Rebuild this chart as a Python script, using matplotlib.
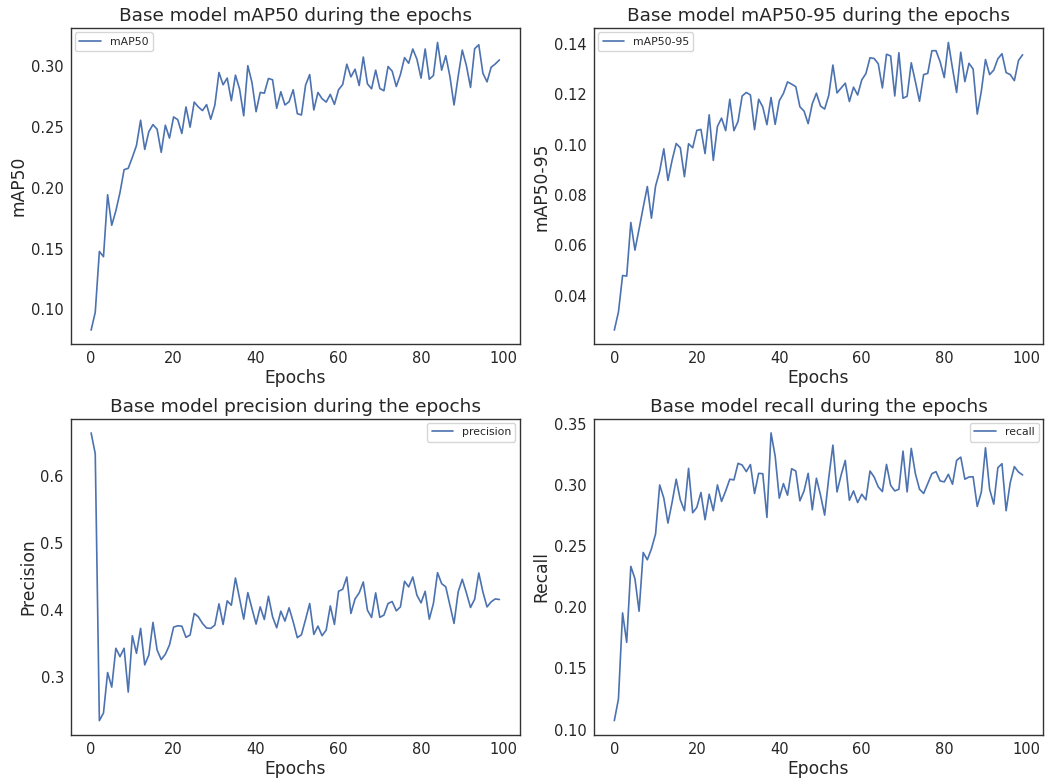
import numpy as np
import matplotlib
matplotlib.use("Agg")
import matplotlib.pyplot as plt
import seaborn as sns

sns.set_theme(style="white")
plt.rcParams['font.family'] = ['DejaVu Sans']

map50 = [
    0.083, 0.0976, 0.1476, 0.1433, 0.1942, 0.1691, 0.181, 0.196, 0.2148, 0.2159,
    0.2249, 0.2347, 0.2554, 0.2314, 0.2461, 0.2518, 0.248, 0.229, 0.2513, 0.2407,
    0.2581, 0.2559, 0.2445, 0.2663, 0.2497, 0.2703, 0.2663, 0.2633, 0.2682, 0.2562,
    0.2678, 0.2946, 0.2845, 0.29, 0.2714, 0.2924, 0.281, 0.259, 0.3002, 0.2864,
    0.2624, 0.2782, 0.2776, 0.2897, 0.2886, 0.2652, 0.2788, 0.2679, 0.2706, 0.2804,
    0.2608, 0.2597, 0.2842, 0.2929, 0.2638, 0.2782, 0.2731, 0.2703, 0.2766, 0.2684,
    0.2804, 0.2847, 0.3014, 0.291, 0.2973, 0.2839, 0.3073, 0.2853, 0.2812, 0.2965,
    0.2815, 0.2796, 0.2995, 0.2957, 0.2831, 0.2929, 0.3068, 0.3022, 0.3139, 0.3055,
    0.29, 0.3139, 0.2891, 0.2921, 0.3193, 0.2965, 0.3084, 0.2913, 0.2679, 0.2913,
    0.313, 0.3002, 0.2823, 0.3141, 0.3174, 0.294, 0.2869, 0.2989, 0.3016, 0.3049,
]
map50_95 = [
    0.0263, 0.0335, 0.048, 0.0478, 0.0691, 0.0581, 0.0665, 0.0751, 0.0834, 0.0708,
    0.0836, 0.0895, 0.0984, 0.0858, 0.0938, 0.1005, 0.0988, 0.0873, 0.1004, 0.0988,
    0.1057, 0.1061, 0.0965, 0.1119, 0.0938, 0.1073, 0.1106, 0.1056, 0.1181, 0.1056,
    0.1093, 0.1194, 0.1208, 0.1198, 0.106, 0.1181, 0.115, 0.108, 0.1188, 0.1081,
    0.1175, 0.1204, 0.125, 0.1241, 0.1231, 0.1151, 0.1134, 0.1084, 0.1163, 0.1205,
    0.1154, 0.1142, 0.1197, 0.1317, 0.1206, 0.1226, 0.1245, 0.1172, 0.1229, 0.1198,
    0.1258, 0.1283, 0.1346, 0.1343, 0.1322, 0.1226, 0.136, 0.1353, 0.1194, 0.1366,
    0.1185, 0.1193, 0.1326, 0.1251, 0.1173, 0.1279, 0.1284, 0.1374, 0.1374, 0.133,
    0.1267, 0.1407, 0.1304, 0.1208, 0.1368, 0.1251, 0.1324, 0.1301, 0.1122, 0.1214,
    0.1339, 0.1279, 0.1297, 0.1342, 0.1362, 0.1287, 0.1279, 0.1255, 0.1335, 0.1358,
]
precision = [
    0.664, 0.633, 0.2345, 0.2459, 0.3063, 0.2845, 0.3425, 0.33, 0.3425, 0.2771,
    0.3612, 0.335, 0.3722, 0.3177, 0.3325, 0.3811, 0.34, 0.3256, 0.3336, 0.3474,
    0.3741, 0.3761, 0.3755, 0.3588, 0.3623, 0.3945, 0.3895, 0.3796, 0.3727, 0.3722,
    0.3771, 0.4088, 0.3781, 0.4133, 0.4068, 0.4474, 0.4167, 0.386, 0.4256, 0.4019,
    0.3786, 0.4043, 0.3855, 0.4202, 0.3895, 0.3731, 0.3979, 0.3831, 0.4029, 0.3821,
    0.3583, 0.3627, 0.3855, 0.4093, 0.3632, 0.3756, 0.3613, 0.3697, 0.4058, 0.3781,
    0.4276, 0.4306, 0.4489, 0.3945, 0.4162, 0.4252, 0.4415, 0.3994, 0.3885, 0.4252,
    0.3887, 0.392, 0.4093, 0.4123, 0.3984, 0.4043, 0.4425, 0.4341, 0.4489, 0.4217,
    0.4103, 0.4276, 0.386, 0.4093, 0.4554, 0.439, 0.4341, 0.4068, 0.3796, 0.4266,
    0.4455, 0.4252, 0.4034, 0.4158, 0.4549, 0.4266, 0.4043, 0.4118, 0.4162, 0.4153,
]
recall = [
    0.1073, 0.125, 0.1955, 0.1714, 0.2336, 0.2235, 0.1969, 0.245, 0.239, 0.248,
    0.2602, 0.3003, 0.2895, 0.2691, 0.2859, 0.305, 0.2881, 0.2792, 0.3139, 0.2775,
    0.2819, 0.2941, 0.2718, 0.2927, 0.2792, 0.3003, 0.2868, 0.2954, 0.305, 0.3044,
    0.318, 0.3166, 0.3112, 0.317, 0.2933, 0.3098, 0.3095, 0.2737, 0.3429, 0.3239,
    0.2895, 0.3014, 0.2919, 0.3136, 0.3117, 0.2873, 0.2954, 0.3098, 0.28, 0.3058,
    0.2919, 0.2756, 0.3063, 0.3329, 0.2946, 0.3085, 0.3204, 0.2878, 0.2954, 0.2859,
    0.2927, 0.2881, 0.3117, 0.3068, 0.2987, 0.2949, 0.3171, 0.30, 0.2954, 0.2968,
    0.328, 0.2946, 0.3302, 0.3095, 0.2968, 0.2933, 0.3014, 0.3095, 0.3112, 0.3036,
    0.3028, 0.309, 0.3009, 0.3204, 0.3231, 0.305, 0.3068, 0.307, 0.2827, 0.2946,
    0.3307, 0.2968, 0.2846, 0.3144, 0.3177, 0.2792, 0.3022, 0.3153, 0.3109, 0.3085,
]

epochs = np.arange(len(map50))

panels = [
    ("mAP50", map50, "mAP50", "upper left"),
    ("mAP50-95", map50_95, "mAP50-95", "upper left"),
    ("precision", precision, "Precision", "upper right"),
    ("recall", recall, "Recall", "upper right"),
]

fig, axes = plt.subplots(2, 2, figsize=(10.49, 7.83), dpi=100)
fig.subplots_adjust(left=0.0674, right=0.9943, top=0.9642, bottom=0.0613,
                    wspace=0.165, hspace=0.234)

for ax, (name, values, ylabel, loc) in zip(axes.ravel(), panels):
    ax.plot(epochs, values, color='#4C72B0', lw=1.2, label=name)
    ax.set_title(f'Base model {name} during the epochs', fontsize=13.3, pad=5)
    ax.set_xlabel('Epochs', fontsize=12.3, labelpad=2)
    ax.set_ylabel(ylabel, fontsize=12.3, labelpad=2.5)
    ax.tick_params(labelsize=10.5, length=0, pad=5)
    for sp in ax.spines.values():
        sp.set_linewidth(1.0)
        sp.set_color('#333333')
    ax.legend(loc=loc, fontsize=7.8, borderaxespad=0.4)

fig.savefig('out.png', dpi=100)
